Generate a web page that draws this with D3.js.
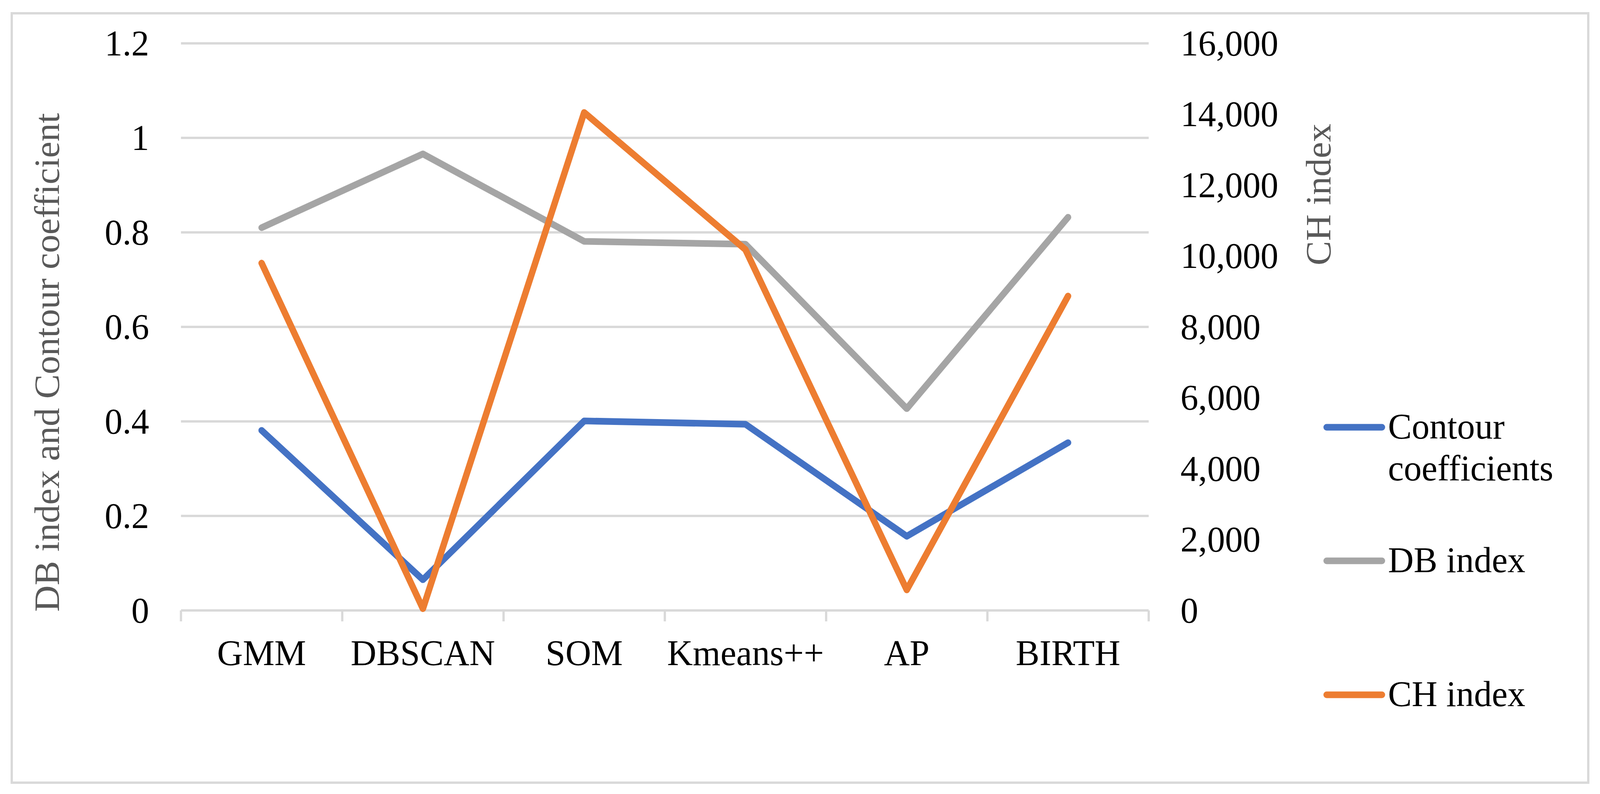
<!DOCTYPE html>
<html>
<head>
<meta charset="utf-8">
<script src="https://cdn.jsdelivr.net/npm/d3@7"></script>
<style>
  html, body { margin: 0; padding: 0; background: #fff; overflow: hidden; }
  #chart svg { display: block; width: 100vw; height: 100vh; }
  text { font-family: "Liberation Serif", "Times New Roman", serif; }
</style>
</head>
<body>
<div id="chart"></div>
<script>
// data
const categories = ["GMM", "DBSCAN", "SOM", "Kmeans++", "AP", "BIRTH"];
const contourValues = [0.381, 0.065, 0.401, 0.394, 0.157, 0.355];
const dbValues = [0.810, 0.966, 0.781, 0.775, 0.427, 0.832];
const chValues = [9800, 50, 14050, 10180, 580, 8870];
const leftTicks = [0, 0.2, 0.4, 0.6, 0.8, 1, 1.2];
const rightTicks = [0, 2000, 4000, 6000, 8000, 10000, 12000, 14000, 16000];
const seriesNames = ["Contour coefficients", "DB index", "CH index"];
const seriesColors = ["#4472c4", "#a5a5a5", "#ed7d31"];

const width = 4226, height = 2033;
const plot = { left: 478, right: 3034, top: 111, bottom: 1563 };
const fontSize = 94;
const lineW = 17;
const gridW = 6;

// stretch to fill the window exactly
const svg = d3.select("#chart").append("svg")
    .attr("viewBox", `0 0 ${width} ${height}`)
    .attr("preserveAspectRatio", "none");

// outer chart border
svg.append("rect")
    .attr("x", 31).attr("y", 34)
    .attr("width", 4164).attr("height", 1970)
    .attr("fill", "#fff")
    .attr("stroke", "#d9d9d9")
    .attr("stroke-width", gridW);

// scales
const x = d3.scaleBand().domain(categories).range([plot.left, plot.right]);
const yLeft = d3.scaleLinear().domain([0, 1.2]).range([plot.bottom, plot.top]);
const yRight = d3.scaleLinear().domain([0, 16000]).range([plot.bottom, plot.top]);
const cx = (d) => x(d) + x.bandwidth() / 2;

// gridlines
svg.append("g")
    .selectAll("line")
    .data(leftTicks.filter((d) => d > 0))
    .join("line")
    .attr("x1", plot.left).attr("x2", plot.right)
    .attr("y1", (d) => yLeft(d)).attr("y2", (d) => yLeft(d))
    .attr("stroke", "#d9d9d9")
    .attr("stroke-width", gridW);

// left axis
const leftAxis = svg.append("g")
    .attr("transform", `translate(${plot.left},0)`)
    .call(d3.axisLeft(yLeft).tickValues(leftTicks).tickSize(0).tickPadding(84).tickFormat((d) => String(d)));
leftAxis.select(".domain").remove();
leftAxis.selectAll("text")
    .attr("font-size", fontSize)
    .attr("fill", "#000")
    .style("font-family", "'Liberation Serif', 'Times New Roman', serif");

// right axis
const rightAxis = svg.append("g")
    .attr("transform", `translate(${plot.right},0)`)
    .call(d3.axisRight(yRight).tickValues(rightTicks).tickSize(0).tickPadding(84).tickFormat(d3.format(",")));
rightAxis.select(".domain").remove();
rightAxis.selectAll("text")
    .attr("font-size", fontSize)
    .attr("fill", "#000")
    .style("font-family", "'Liberation Serif', 'Times New Roman', serif");

// category axis line and tick marks between categories
svg.append("line")
    .attr("x1", plot.left).attr("x2", plot.right)
    .attr("y1", plot.bottom).attr("y2", plot.bottom)
    .attr("stroke", "#d9d9d9")
    .attr("stroke-width", gridW);

svg.append("g")
    .selectAll("line")
    .data(categories.map((d) => x(d)).concat([plot.right]))
    .join("line")
    .attr("x1", (d) => d).attr("x2", (d) => d)
    .attr("y1", plot.bottom).attr("y2", plot.bottom + 28)
    .attr("stroke", "#d9d9d9")
    .attr("stroke-width", gridW);

svg.append("g")
    .selectAll("text")
    .data(categories)
    .join("text")
    .attr("x", (d) => cx(d))
    .attr("y", 1703)
    .attr("text-anchor", "middle")
    .attr("font-size", fontSize)
    .attr("fill", "#000")
    .text((d) => d);

// axis titles
svg.append("text")
    .attr("transform", "translate(156,928) rotate(-90)")
    .attr("text-anchor", "middle")
    .attr("font-size", fontSize)
    .attr("fill", "#595959")
    .text("DB index and Contour coefficient");

svg.append("text")
    .attr("transform", "translate(3514,498) rotate(-90)")
    .attr("text-anchor", "middle")
    .attr("font-size", fontSize)
    .attr("fill", "#595959")
    .text("CH index");

// lines
const lineLeft = d3.line().x((d, i) => cx(categories[i])).y((d) => yLeft(d));
const lineRight = d3.line().x((d, i) => cx(categories[i])).y((d) => yRight(d));

const series = [
    { values: contourValues, gen: lineLeft },
    { values: dbValues, gen: lineLeft },
    { values: chValues, gen: lineRight }
];

// draw order: grey, blue, orange on top
[1, 0, 2].forEach((i) => {
    svg.append("path")
        .attr("d", series[i].gen(series[i].values))
        .attr("fill", "none")
        .attr("stroke", seriesColors[i])
        .attr("stroke-width", lineW)
        .attr("stroke-linecap", "round")
        .attr("stroke-linejoin", "round");
});

// legend
const legendY = [1094, 1436, 1779];
const legend = svg.append("g");
seriesNames.forEach((name, i) => {
    legend.append("line")
        .attr("x1", 3504).attr("x2", 3650)
        .attr("y1", legendY[i]).attr("y2", legendY[i])
        .attr("stroke", seriesColors[i])
        .attr("stroke-width", lineW)
        .attr("stroke-linecap", "round");
    const t = legend.append("text")
        .attr("x", 3666)
        .attr("y", legendY[i] + 29)
        .attr("font-size", fontSize)
        .attr("fill", "#000");
    if (i === 0) {
        t.append("tspan").attr("x", 3666).text("Contour");
        t.append("tspan").attr("x", 3666).attr("dy", 107).text("coefficients");
    } else {
        t.text(name);
    }
});
</script>
</body>
</html>
